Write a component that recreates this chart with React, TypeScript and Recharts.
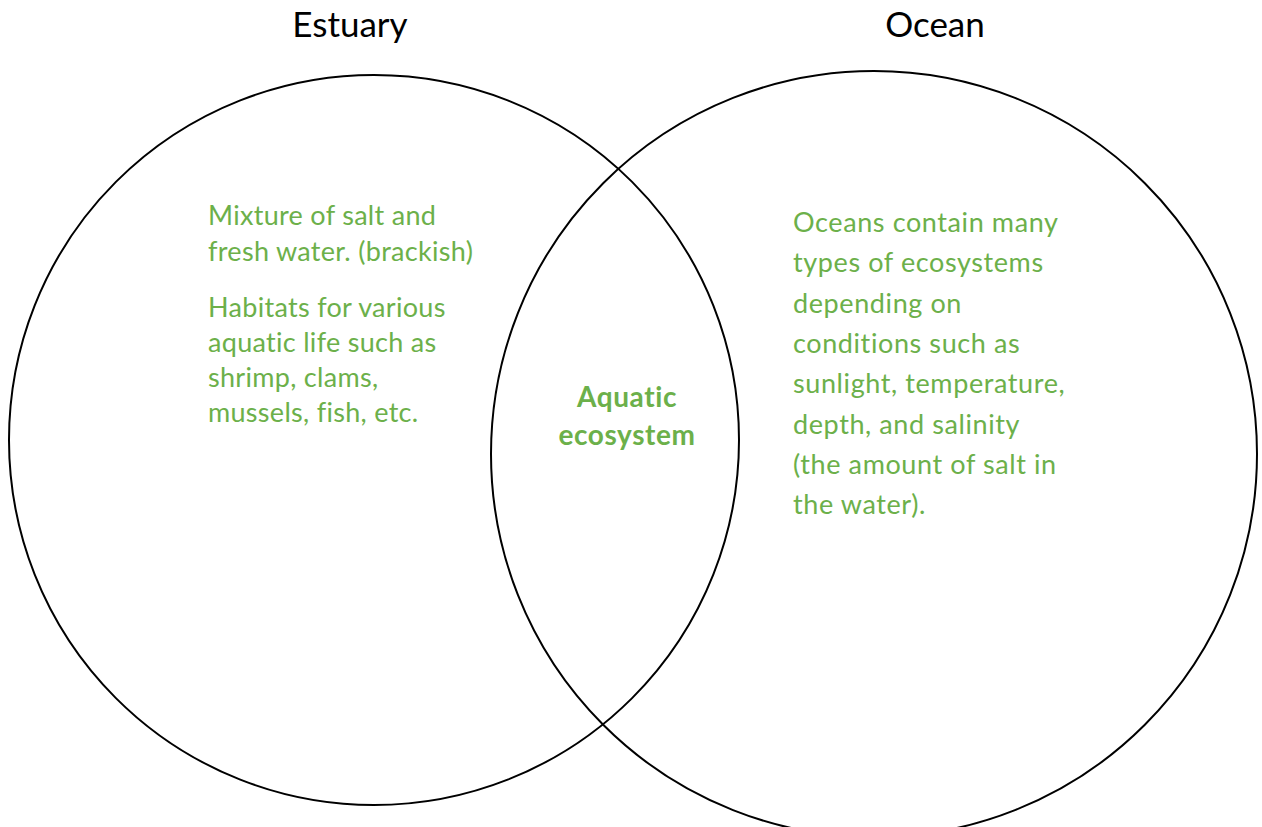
import React from 'react';
import { Scatter, ScatterChart, XAxis, YAxis } from 'recharts';

const W = 1262;
const H = 827;

// Venn sets: centre and radius in chart units (1 unit = 1px)
const setNames = ['Estuary', 'Ocean'];
const circleX = [374, 874];
const circleY = [440, 454];
const circleR = [365, 383];

const estuaryFacts = ['Mixture of salt and', 'fresh water. (brackish)'];
const estuaryHabitat = ['Habitats for various', 'aquatic life such as', 'shrimp, clams,', 'mussels, fish, etc.'];
const oceanFacts = [
  'Oceans contain many',
  'types of ecosystems',
  'depending on',
  'conditions such as',
  'sunlight, temperature,',
  'depth, and salinity',
  '(the amount of salt in',
  'the water).',
];
const overlapFacts = ['Aquatic', 'ecosystem'];

const GREEN = '#6cb04a';
const FONT = 'Lato, "Open Sans", sans-serif';

const circles = setNames.map((name, i) => ({ name, x: circleX[i], y: circleY[i], r: circleR[i] }));

const titles = [
  { x: 350, y: 37, text: setNames[0] },
  { x: 935, y: 37, text: setNames[1] },
];

const blocks = [
  { x: 208, y: 225, lines: estuaryFacts, step: 36, anchor: 'start', bold: false, size: 27, spacing: 0.3 },
  { x: 208, y: 317, lines: estuaryHabitat, step: 35, anchor: 'start', bold: false, size: 27, spacing: 0.3 },
  { x: 793, y: 232, lines: oceanFacts, step: 40.3, anchor: 'start', bold: false, size: 27, spacing: 0.6 },
  { x: 627, y: 407, lines: overlapFacts, step: 38, anchor: 'middle', bold: true, size: 28, spacing: 0.6 },
];

const CircleShape = (props: any) => {
  const { cx, cy, payload } = props;
  return <circle cx={cx} cy={cy} r={payload.r} fill="none" stroke="#000" strokeWidth={2} />;
};

const TitleShape = (props: any) => {
  const { cx, cy, payload } = props;
  return (
    <text x={cx} y={cy} textAnchor="middle" fontFamily={FONT} fontSize={35} fill="#000">
      {payload.text}
    </text>
  );
};

const BlockShape = (props: any) => {
  const { cx, cy, payload } = props;
  return (
    <text
      x={cx}
      y={cy}
      textAnchor={payload.anchor}
      fontFamily={FONT}
      fontSize={payload.size}
      letterSpacing={payload.spacing}
      fontWeight={payload.bold ? 700 : 400}
      fill={GREEN}
    >
      {payload.lines.map((line: string, i: number) => (
        <tspan key={i} x={cx} dy={i === 0 ? 0 : payload.step}>
          {line}
        </tspan>
      ))}
    </text>
  );
};

export default function App() {
  return (
    <div style={{ position: 'absolute', left: 0, top: 0, width: W, height: H, background: '#fff' }}>
      <ScatterChart width={W} height={H} margin={{ top: 0, right: 0, bottom: 0, left: 0 }}>
        <XAxis type="number" dataKey="x" domain={[0, W]} hide />
        <YAxis type="number" dataKey="y" domain={[0, H]} reversed hide />
        <Scatter data={circles} shape={<CircleShape />} isAnimationActive={false} />
        <Scatter data={titles} shape={<TitleShape />} isAnimationActive={false} />
        <Scatter data={blocks} shape={<BlockShape />} isAnimationActive={false} />
      </ScatterChart>
    </div>
  );
}
